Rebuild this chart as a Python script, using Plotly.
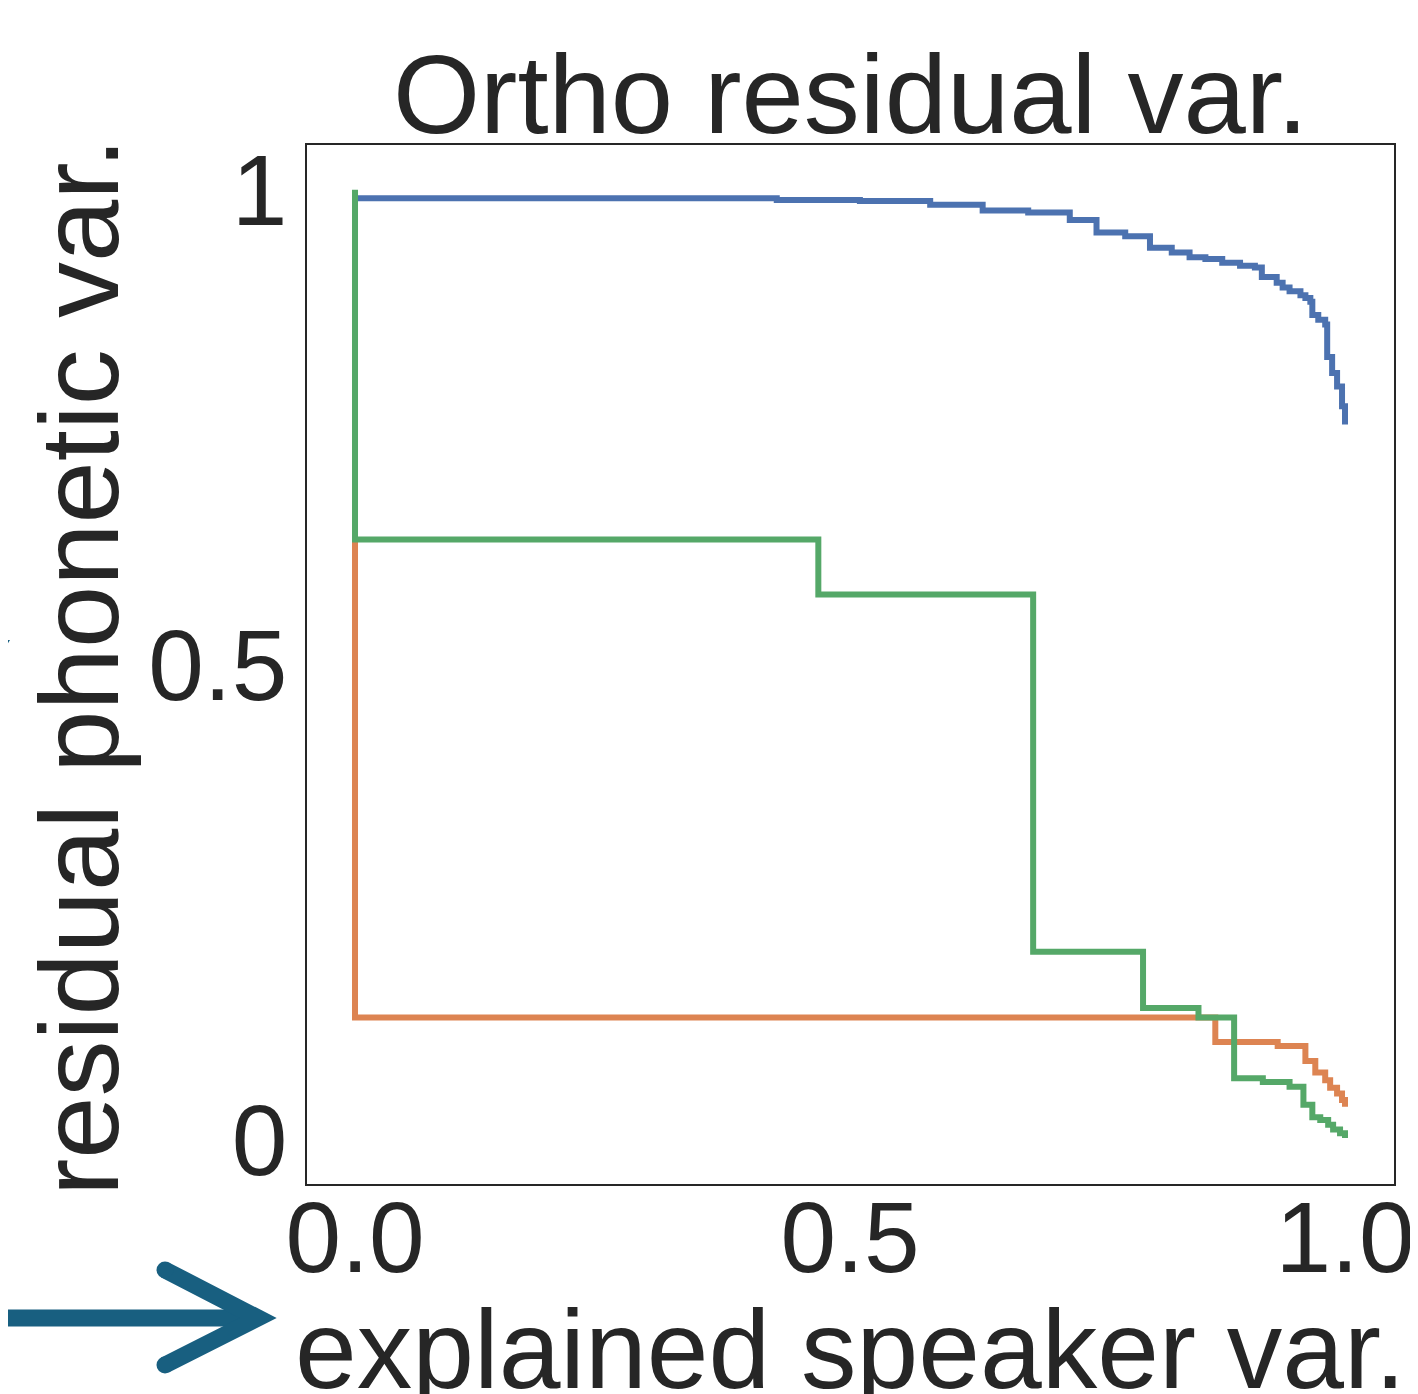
import plotly.graph_objects as go

# ---- data ----
blue_x = [0.0, 0.426, 0.510, 0.581, 0.634, 0.680, 0.722, 0.749, 0.778, 0.803, 0.825, 0.843,
          0.859, 0.876, 0.894, 0.909, 0.916, 0.931, 0.937, 0.944, 0.955, 0.960, 0.965, 0.967,
          0.973, 0.980, 0.982, 0.987, 0.992, 0.997, 1.0]
blue_y = [0.991, 0.989, 0.988, 0.984, 0.978, 0.976, 0.968, 0.955, 0.951, 0.939, 0.934, 0.929,
          0.927, 0.923, 0.920, 0.918, 0.908, 0.902, 0.897, 0.893, 0.889, 0.886, 0.882, 0.868,
          0.863, 0.858, 0.824, 0.807, 0.793, 0.772, 0.753]

orange_x = [0.0, 0.0, 0.869, 0.932, 0.960, 0.970, 0.980, 0.985, 0.992, 0.997, 1.0]
orange_y = [0.632, 0.129, 0.103, 0.099, 0.083, 0.071, 0.063, 0.055, 0.049, 0.042, 0.035]

green_x = [0.0, 0.0, 0.468, 0.685, 0.796, 0.852, 0.888, 0.917, 0.944, 0.958, 0.967, 0.975,
           0.983, 0.988, 0.995, 1.0]
green_y = [1.0, 0.632, 0.574, 0.198, 0.139, 0.129, 0.065, 0.061, 0.056, 0.037, 0.024, 0.021,
           0.016, 0.011, 0.007, 0.002]

x_ticks = [0.0, 0.5, 1.0]
x_tick_labels = ["0.0", "0.5", "1.0"]
y_ticks = [0.0, 0.5, 1.0]
y_tick_labels = ["0", "0.5", "1"]

title_text = "Ortho residual var."
x_title = "explained speaker var."
y_title = "residual phonetic var."

# ---- styling ----
FONT = "Liberation Sans, Arial, sans-serif"
TXT = "#262626"
W, H = 1418, 1394
OFF = 8  # default page body margin
L, R, T, B = 307, 24, 145, 210
PW, PH = W - L - R, H - T - B
ARROW = "#185f80"


def px(xp):
    return (xp - L) / PW


def py(yp):
    return (H - B - yp) / PH


fig = go.Figure()
for xs, ys, col in [(blue_x, blue_y, "#4c72b0"),
                    (orange_x, orange_y, "#dd8452"),
                    (green_x, green_y, "#55a868")]:
    fig.add_trace(go.Scatter(x=xs, y=ys, mode="lines", line=dict(color=col, width=6, shape="hv"),
                             showlegend=False, hoverinfo="skip"))

axis_common = dict(showgrid=False, zeroline=False, showline=True, mirror=True,
                   linecolor=TXT, linewidth=1.5, ticks="",
                   tickfont=dict(family=FONT, size=100, color=TXT))
fig.update_xaxes(range=[-0.0485, 1.0495], tickvals=x_ticks, ticktext=x_tick_labels,
                 ticklabelstandoff=-34, **axis_common)
fig.update_yaxes(range=[-0.0463, 1.047], tickvals=y_ticks, ticktext=y_tick_labels,
                 ticklabelstandoff=-2, **axis_common)

annotations = [
    dict(text=title_text, x=0.5, y=1.0, xref="paper", yref="paper", xanchor="center",
         yanchor="bottom", yshift=-14, showarrow=False,
         font=dict(family=FONT, size=112, color=TXT)),
    dict(text=y_title, x=px(80), y=py(667), xref="paper", yref="paper", xanchor="center",
         yanchor="middle", textangle=-90, showarrow=False,
         font=dict(family=FONT, size=112, color=TXT)),
    dict(text=x_title, x=px(850), y=py(1350), xref="paper", yref="paper", xanchor="center",
         yanchor="middle", showarrow=False,
         font=dict(family=FONT, size=111, color=TXT)),
]

shapes = [
    dict(type="path", xref="paper", yref="paper",
         path=f"M {px(-20)},{py(1318)} L {px(250)},{py(1318)}",
         line=dict(color=ARROW, width=17)),
    dict(type="path", xref="paper", yref="paper",
         path=f"M {px(165)},{py(1270)} L {px(258)},{py(1318)} L {px(165)},{py(1365)}",
         line=dict(color=ARROW, width=17)),
    dict(type="path", xref="paper", yref="paper",
         path=f"M {px(0)},{py(640)} L {px(10)},{py(640)} L {px(0)},{py(656)} Z",
         fillcolor=ARROW, line=dict(width=0)),
]
for cx, cy in [(165, 1270), (165, 1365)]:
    shapes.append(dict(type="circle", xref="paper", yref="paper",
                       x0=px(cx - 8.5), x1=px(cx + 8.5), y0=py(cy + 8.5), y1=py(cy - 8.5),
                       fillcolor=ARROW, line=dict(width=0)))

fig.update_layout(width=W, height=H,
                  margin=dict(l=L - OFF, r=R + OFF, t=T - OFF, b=B + OFF, autoexpand=False),
                  plot_bgcolor="white", paper_bgcolor="white",
                  annotations=annotations, shapes=shapes,
                  font=dict(family=FONT, color=TXT))

fig.write_html("out.html")
